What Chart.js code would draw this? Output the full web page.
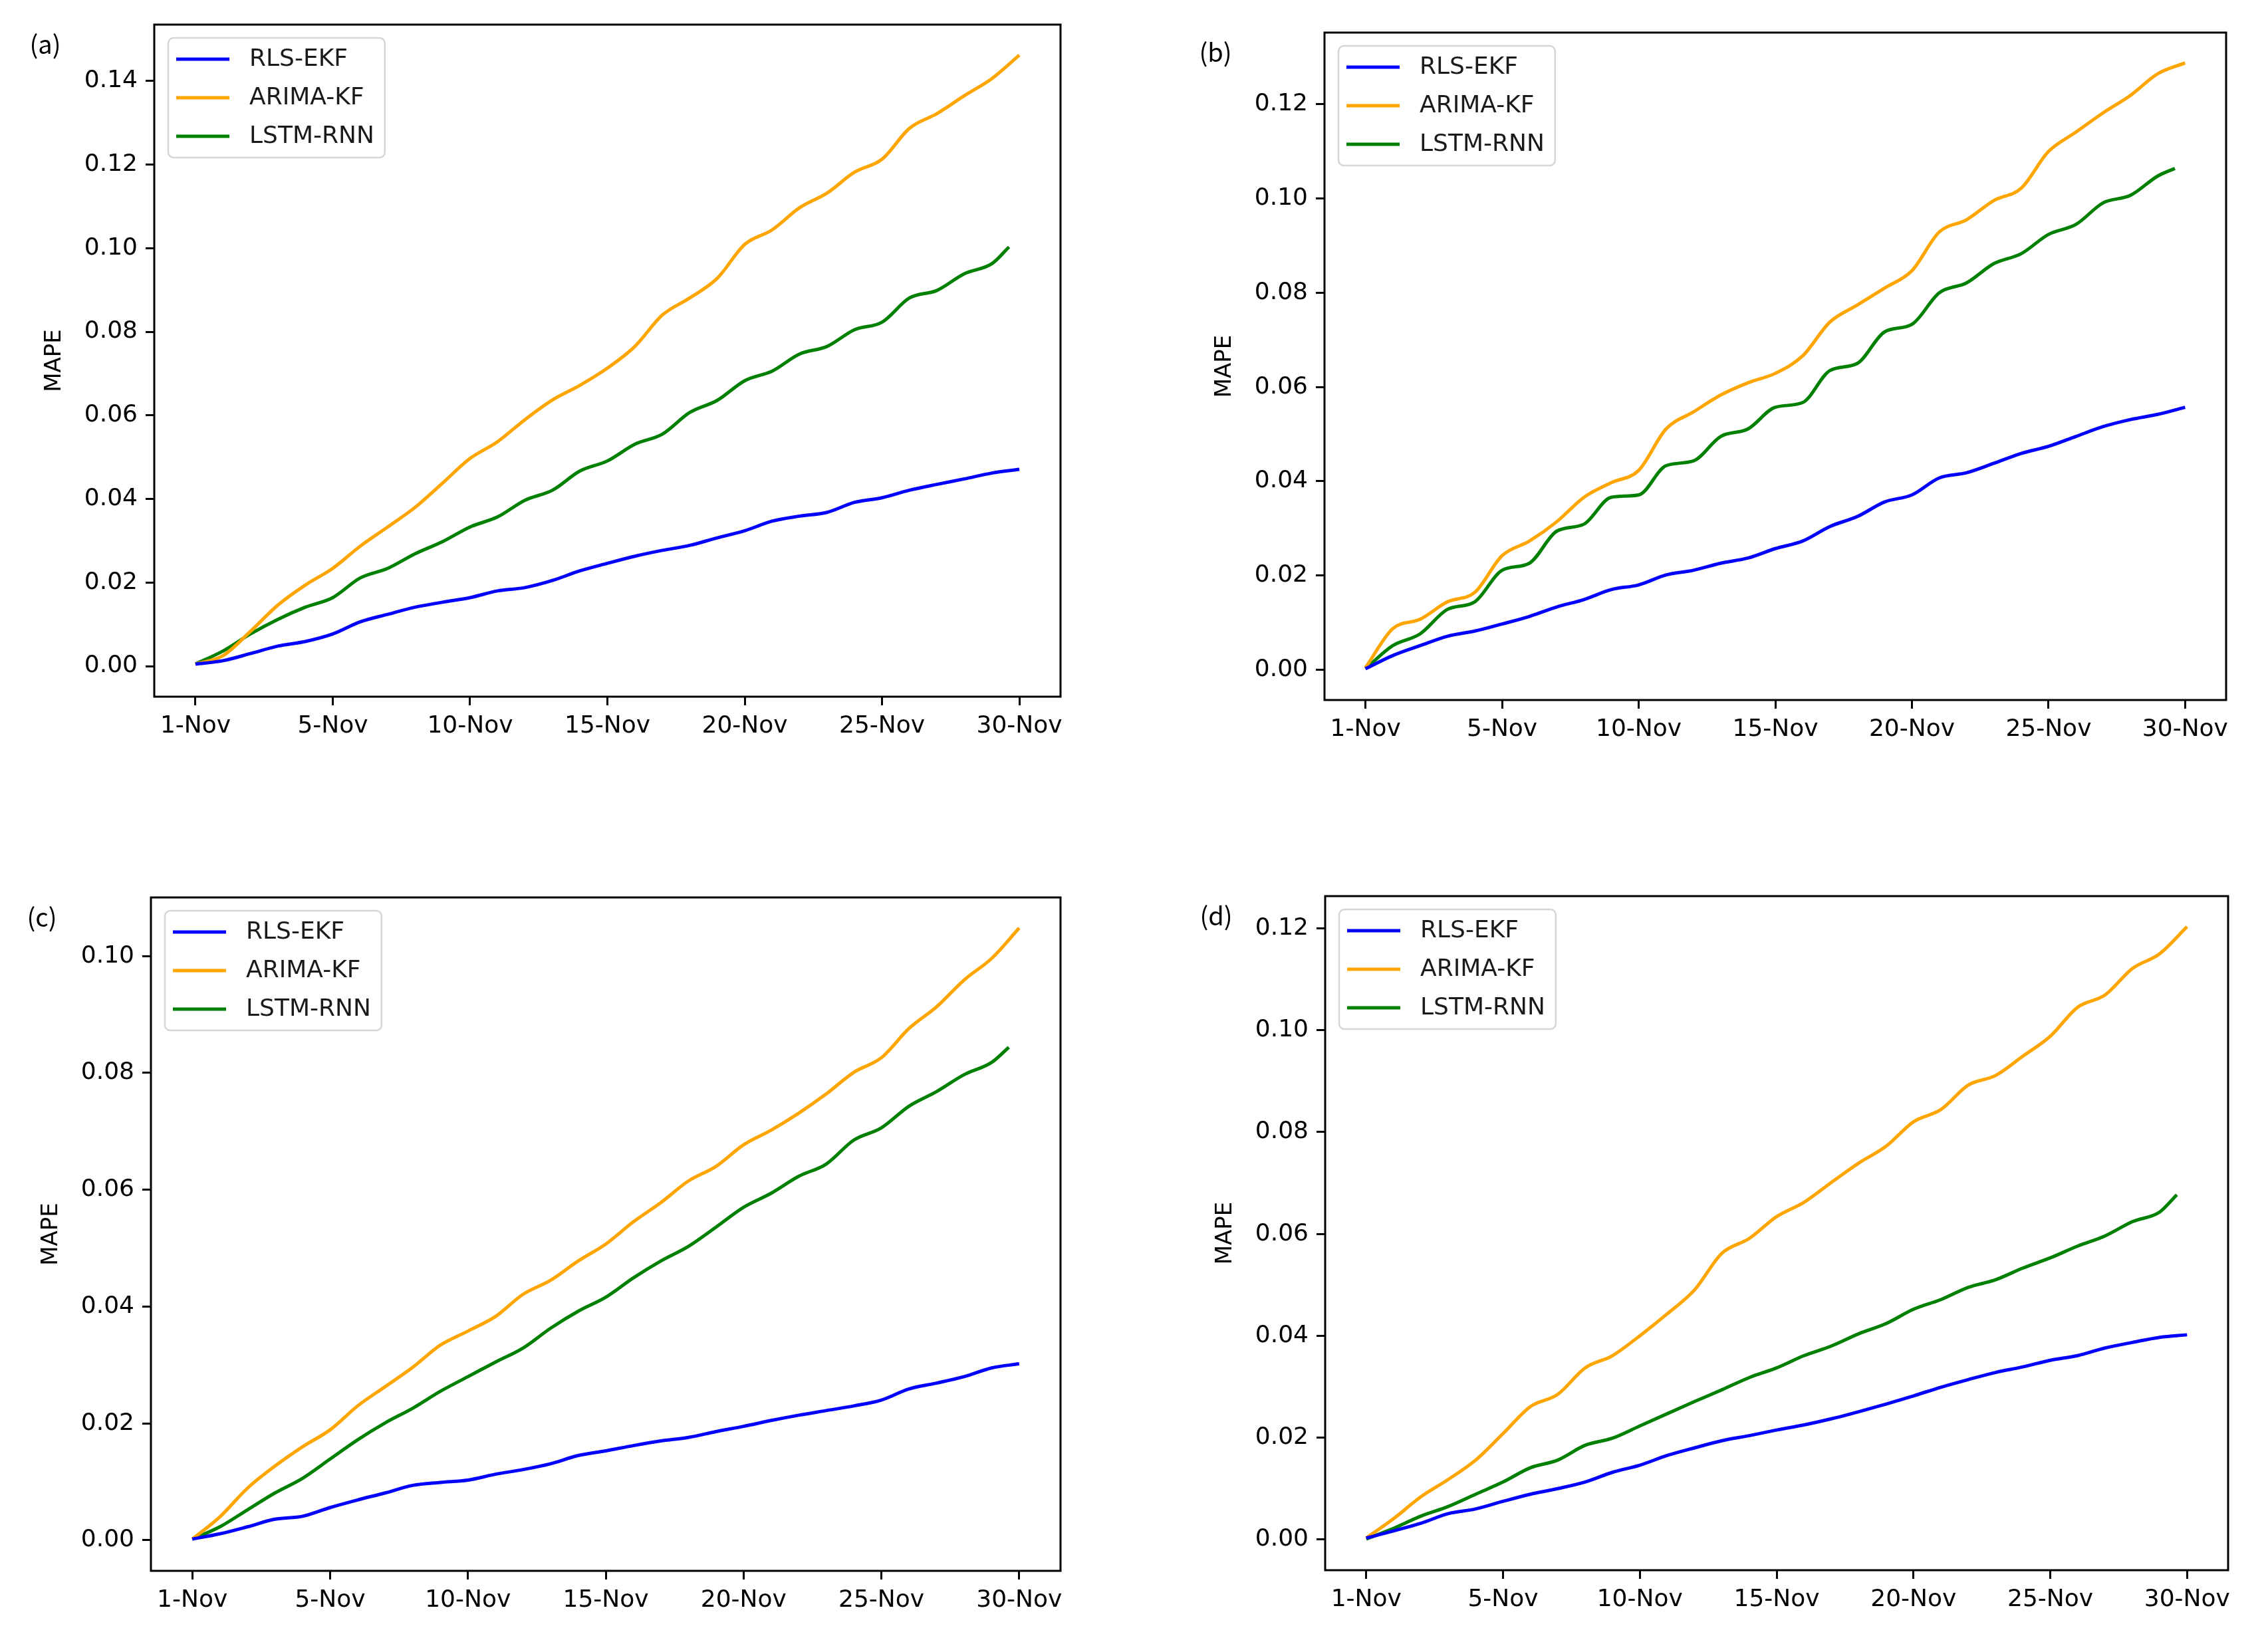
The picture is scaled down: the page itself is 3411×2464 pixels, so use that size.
<!DOCTYPE html>
<html>
<head>
<meta charset="utf-8">
<script src="https://cdn.jsdelivr.net/npm/chart.js@4.4.1/dist/chart.umd.min.js"></script>
<style>
  html, body { margin: 0; padding: 0; background: #fff; }
  body { width: 3411px; height: 2464px; position: relative; overflow: hidden; }
  canvas { position: absolute; }
</style>
</head>
<body>
<canvas id="pa"></canvas>
<canvas id="pb"></canvas>
<canvas id="pc"></canvas>
<canvas id="pd"></canvas>
<script>
// x is hours from 1-Nov 00:00, one reading a day
const hours = [0, 24, 48, 72, 96, 120, 144, 168, 192, 216, 240, 264, 288, 312, 336, 360,
  384, 408, 432, 456, 480, 504, 528, 552, 576, 600, 624, 648, 672, 696, 720];
const lstmHours = [0, 24, 48, 72, 96, 120, 144, 168, 192, 216, 240, 264, 288, 312, 336, 360,
  384, 408, 432, 456, 480, 504, 528, 552, 576, 600, 624, 648, 672, 696, 711];
const tickHours = [0, 120, 240, 360, 480, 600, 720];
const tickLabels = ['1-Nov', '5-Nov', '10-Nov', '15-Nov', '20-Nov', '25-Nov', '30-Nov'];
const seriesNames = ['RLS-EKF', 'ARIMA-KF', 'LSTM-RNN'];
const seriesColors = ['#0000ff', '#ffa500', '#008000'];

// (a)
const rlsA = [0.0005, 0.0013, 0.003, 0.0048, 0.0059, 0.0077, 0.0106, 0.0124, 0.0141, 0.0153, 0.0164,
  0.018, 0.0188, 0.0205, 0.0228, 0.0246, 0.0263, 0.0277, 0.0289, 0.0307, 0.0324, 0.0347, 0.0359,
  0.0368, 0.0392, 0.0403, 0.0421, 0.0435, 0.0448, 0.0462, 0.0471];
const arimaA = [0.0005, 0.0025, 0.0083, 0.0146, 0.0194, 0.0234, 0.0287, 0.0333, 0.038, 0.0438, 0.0497,
  0.0537, 0.059, 0.0637, 0.0672, 0.0713, 0.0765, 0.084, 0.0881, 0.0928, 0.1009, 0.1044, 0.1097,
  0.1132, 0.1182, 0.1213, 0.1287, 0.1322, 0.1365, 0.1406, 0.1462];
const lstmA = [0.0005, 0.0036, 0.0077, 0.0112, 0.0141, 0.0164, 0.0211, 0.0234, 0.0269, 0.0298, 0.0333,
  0.0357, 0.0397, 0.0421, 0.0467, 0.0491, 0.0531, 0.0555, 0.0607, 0.0636, 0.0683, 0.0706, 0.0747,
  0.0765, 0.0805, 0.0823, 0.0881, 0.0899, 0.0939, 0.0963, 0.1003];
const yTicksA = [0, 0.02, 0.04, 0.06, 0.08, 0.10, 0.12, 0.14];

// (b)
const rlsB = [0.0002, 0.003, 0.0051, 0.0071, 0.0082, 0.0097, 0.0113, 0.0133, 0.0149, 0.017, 0.018,
  0.0201, 0.0211, 0.0226, 0.0237, 0.0257, 0.0273, 0.0304, 0.0325, 0.0356, 0.0371, 0.0407, 0.0418,
  0.0438, 0.0459, 0.0474, 0.0495, 0.0516, 0.0531, 0.0542, 0.0557];
const arimaB = [0.0004, 0.0087, 0.0107, 0.0144, 0.0164, 0.0242, 0.0273, 0.0314, 0.0366, 0.0397, 0.0423,
  0.0511, 0.0547, 0.0583, 0.0609, 0.0629, 0.0666, 0.0738, 0.0774, 0.081, 0.0847, 0.0929, 0.0955,
  0.0996, 0.1022, 0.11, 0.1141, 0.1182, 0.1219, 0.1265, 0.1288];
const lstmB = [0.0002, 0.0051, 0.0076, 0.0128, 0.0144, 0.0211, 0.0226, 0.0294, 0.0309, 0.0366, 0.0371,
  0.0433, 0.0443, 0.0495, 0.0511, 0.0557, 0.0567, 0.0635, 0.065, 0.0717, 0.0733, 0.08, 0.0821,
  0.0862, 0.0883, 0.0924, 0.0945, 0.0991, 0.1007, 0.1048, 0.1064];
const yTicksB = [0, 0.02, 0.04, 0.06, 0.08, 0.10, 0.12];

// (c)
const rlsC = [0.0002, 0.0011, 0.0023, 0.0036, 0.0041, 0.0056, 0.0069, 0.0081, 0.0094, 0.0099, 0.0103,
  0.0113, 0.0121, 0.0131, 0.0145, 0.0153, 0.0162, 0.017, 0.0176, 0.0186, 0.0195, 0.0205, 0.0214,
  0.0222, 0.023, 0.024, 0.0259, 0.0269, 0.028, 0.0295, 0.0302];
const arimaC = [0.0002, 0.004, 0.0089, 0.0127, 0.016, 0.0189, 0.023, 0.0263, 0.0296, 0.0334, 0.0358,
  0.0383, 0.0421, 0.0445, 0.0478, 0.0507, 0.0545, 0.0578, 0.0615, 0.064, 0.0677, 0.0702, 0.0731,
  0.0764, 0.0801, 0.0826, 0.0876, 0.0913, 0.0959, 0.0996, 0.1048];
const lstmC = [0.0002, 0.0023, 0.0052, 0.0081, 0.0106, 0.0139, 0.0172, 0.0201, 0.0226, 0.0255, 0.028,
  0.0305, 0.0329, 0.0363, 0.0392, 0.0416, 0.0449, 0.0478, 0.0503, 0.0536, 0.057, 0.0594, 0.0623,
  0.0644, 0.0685, 0.0706, 0.0743, 0.0768, 0.0797, 0.0818, 0.0844];
const yTicksC = [0, 0.02, 0.04, 0.06, 0.08, 0.10];

// (d)
const rlsD = [0.0003, 0.0017, 0.0032, 0.0051, 0.006, 0.0075, 0.0089, 0.01, 0.0113, 0.0132, 0.0146,
  0.0165, 0.018, 0.0194, 0.0204, 0.0215, 0.0225, 0.0237, 0.0251, 0.0266, 0.0282, 0.0299, 0.0314,
  0.0328, 0.0339, 0.0352, 0.0361, 0.0376, 0.0387, 0.0397, 0.0402];
const arimaD = [0.0003, 0.0041, 0.0084, 0.0118, 0.0156, 0.0208, 0.0261, 0.0285, 0.0337, 0.0361, 0.04,
  0.0443, 0.049, 0.0562, 0.0591, 0.0634, 0.0662, 0.0701, 0.0739, 0.0772, 0.082, 0.0844, 0.0892,
  0.0911, 0.0949, 0.0988, 0.1045, 0.1069, 0.1121, 0.115, 0.1203];
const lstmD = [0.0001, 0.0022, 0.0046, 0.0065, 0.0089, 0.0113, 0.0141, 0.0156, 0.0185, 0.0199, 0.0223,
  0.0247, 0.0271, 0.0294, 0.0318, 0.0337, 0.0361, 0.038, 0.0404, 0.0424, 0.0452, 0.0471, 0.0495,
  0.051, 0.0533, 0.0553, 0.0576, 0.0596, 0.0624, 0.0643, 0.0677];
const yTicksD = [0, 0.02, 0.04, 0.06, 0.08, 0.10, 0.12];

const FONT = "'DejaVu Sans', sans-serif";
const ML = 210, MT = 36, MR = 24, MB = 100;

// frame (axes box) in page pixels: left, top, right, bottom
const panels = [
  { id: 'pa', tag: '(a)', frame: [232, 37, 1595, 1048], series: [rlsA, arimaA, lstmA], yTicks: yTicksA },
  { id: 'pb', tag: '(b)', frame: [1992, 49, 3348, 1053], series: [rlsB, arimaB, lstmB], yTicks: yTicksB },
  { id: 'pc', tag: '(c)', frame: [227, 1350, 1595, 2363], series: [rlsC, arimaC, lstmC], yTicks: yTicksC },
  { id: 'pd', tag: '(d)', frame: [1993, 1348, 3351, 2362], series: [rlsD, arimaD, lstmD], yTicks: yTicksD },
];

const boxLegend = {
  id: 'boxLegend',
  afterDraw(chart) {
    const { ctx, chartArea } = chart;
    ctx.save();
    // axes frame
    ctx.strokeStyle = '#000';
    ctx.lineWidth = 3;
    ctx.strokeRect(chartArea.left, chartArea.top, chartArea.right - chartArea.left, chartArea.bottom - chartArea.top);

    // legend, matplotlib style
    ctx.font = '36px ' + FONT;
    const widest = Math.max(...chart.data.datasets.map((ds) => ctx.measureText(ds.label).width));
    const x0 = chartArea.left + 21, y0 = chartArea.top + 20;
    const w = 122 + widest + 16, h = 180;
    ctx.beginPath();
    ctx.roundRect(x0, y0, w, h, 8);
    ctx.fillStyle = 'rgba(255,255,255,0.8)';
    ctx.fill();
    ctx.strokeStyle = '#d6d6d6';
    ctx.lineWidth = 2.5;
    ctx.stroke();
    chart.data.datasets.forEach((ds, i) => {
      const cy = y0 + 32 + i * 58;
      ctx.strokeStyle = ds.borderColor;
      ctx.lineWidth = 5;
      ctx.beginPath();
      ctx.moveTo(x0 + 12, cy);
      ctx.lineTo(x0 + 92, cy);
      ctx.stroke();
      ctx.fillStyle = '#1a1a1a';
      ctx.textAlign = 'left';
      ctx.textBaseline = 'middle';
      ctx.fillText(ds.label, x0 + 122, cy + 1);
    });

    // panel tag
    ctx.font = "38px 'Noto Sans CJK SC', 'DejaVu Sans', sans-serif";
    ctx.fillStyle = '#000';
    ctx.textAlign = 'center';
    ctx.fillText(chart.options.plugins.boxLegend.tag, chartArea.left - 164, chartArea.top + 30);
    ctx.restore();
  },
};

for (const p of panels) {
  const [l, t, r, b] = p.frame;
  const canvas = document.getElementById(p.id);
  const cw = (r - l) + ML + MR, ch = (b - t) + MT + MB;
  canvas.style.left = (l - ML) + 'px';
  canvas.style.top = (t - MT) + 'px';
  canvas.style.width = cw + 'px';
  canvas.style.height = ch + 'px';
  canvas.width = cw;
  canvas.height = ch;

  const top = Math.max(...p.series.flat());
  new Chart(canvas, {
    type: 'line',
    data: {
      datasets: p.series.map((vals, i) => ({
        label: seriesNames[i],
        data: vals.map((v, j) => ({ x: (i === 2 ? lstmHours : hours)[j], y: v })),
        borderColor: seriesColors[i],
        backgroundColor: seriesColors[i],
        borderWidth: 5,
        pointRadius: 0,
        cubicInterpolationMode: 'monotone',
        fill: false,
      })),
    },
    options: {
      responsive: false,
      animation: false,
      devicePixelRatio: 1,
      layout: { padding: { left: 0, top: MT, right: MR, bottom: 0 } },
      plugins: {
        legend: { display: false },
        tooltip: { enabled: false },
        boxLegend: { tag: p.tag },
      },
      scales: {
        x: {
          type: 'linear',
          min: -36,
          max: 756,
          afterBuildTicks: (scale) => { scale.ticks = tickHours.map((v) => ({ value: v })); },
          afterFit: (scale) => { scale.height = MB; },
          border: { display: false },
          grid: { drawOnChartArea: false, drawTicks: true, tickLength: 13, color: '#000', lineWidth: 3 },
          ticks: {
            autoSkip: false,
            maxRotation: 0,
            padding: 10,
            color: '#000',
            font: { family: FONT, size: 36 },
            callback: (v, i) => tickLabels[i],
          },
        },
        y: {
          min: -0.05 * top,
          max: 1.05 * top,
          afterBuildTicks: (scale) => { scale.ticks = p.yTicks.map((v) => ({ value: v })); },
          afterFit: (scale) => { scale.width = ML; },
          border: { display: false },
          grid: { drawOnChartArea: false, drawTicks: true, tickLength: 13, color: '#000', lineWidth: 3 },
          ticks: {
            autoSkip: false,
            padding: 12,
            color: '#000',
            font: { family: FONT, size: 36 },
            callback: (v) => v.toFixed(2),
          },
          title: {
            display: true,
            text: 'MAPE',
            color: '#000',
            font: { family: FONT, size: 34 },
            padding: { top: 40, bottom: 0 },
          },
        },
      },
    },
    plugins: [boxLegend],
  });
}
</script>
</body>
</html>
